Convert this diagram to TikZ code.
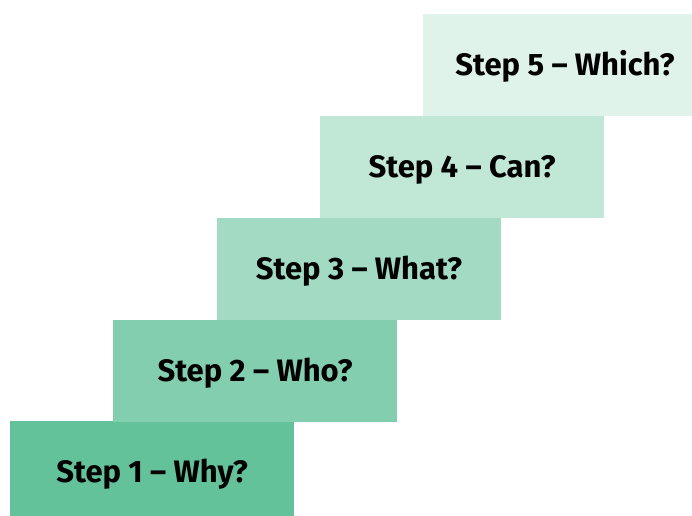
\documentclass[tikz,border=0pt]{standalone}
\usepackage{fontspec}
\setmainfont{Fira Sans}
\definecolor{cA}{HTML}{63C29A}
\definecolor{cB}{HTML}{82CEAE}
\definecolor{cC}{HTML}{A2DAC3}
\definecolor{cD}{HTML}{C1E7D7}
\definecolor{cE}{HTML}{E0F3EB}
\tikzset{stepbox/.style={rectangle, inner sep=0pt, minimum width=284pt, minimum height=102pt},
  steptext/.style={anchor=base, inner sep=0pt, font=\fontsize{31}{34}\selectfont\bfseries, text=black}}
\begin{document}
\begin{tikzpicture}[x=1pt,y=1pt]
\useasboundingbox (0,0) rectangle (692,515);
\clip (0,0) rectangle (692,515);
\node[stepbox, fill=cA] (s1) at (152,43) {};
\node[stepbox, fill=cB] (s2) at (255,144) {};
\node[stepbox, fill=cC] (s3) at (359,246) {};
\node[stepbox, fill=cD] (s4) at (462,348) {};
\node[stepbox, fill=cE] (s5) at (565,450) {};
\node[steptext] (t1) at ([yshift=-10.5pt]s1.center) {Step 1 – Why?};
\node[steptext] (t2) at ([yshift=-10.5pt]s2.center) {Step 2 – Who?};
\node[steptext] (t3) at ([yshift=-10.5pt]s3.center) {Step 3 – What?};
\node[steptext] (t4) at ([yshift=-10.5pt]s4.center) {Step 4 – Can?};
\node[steptext] (t5) at ([yshift=-10.5pt]s5.center) {Step 5 – Which?};
\end{tikzpicture}
\end{document}
